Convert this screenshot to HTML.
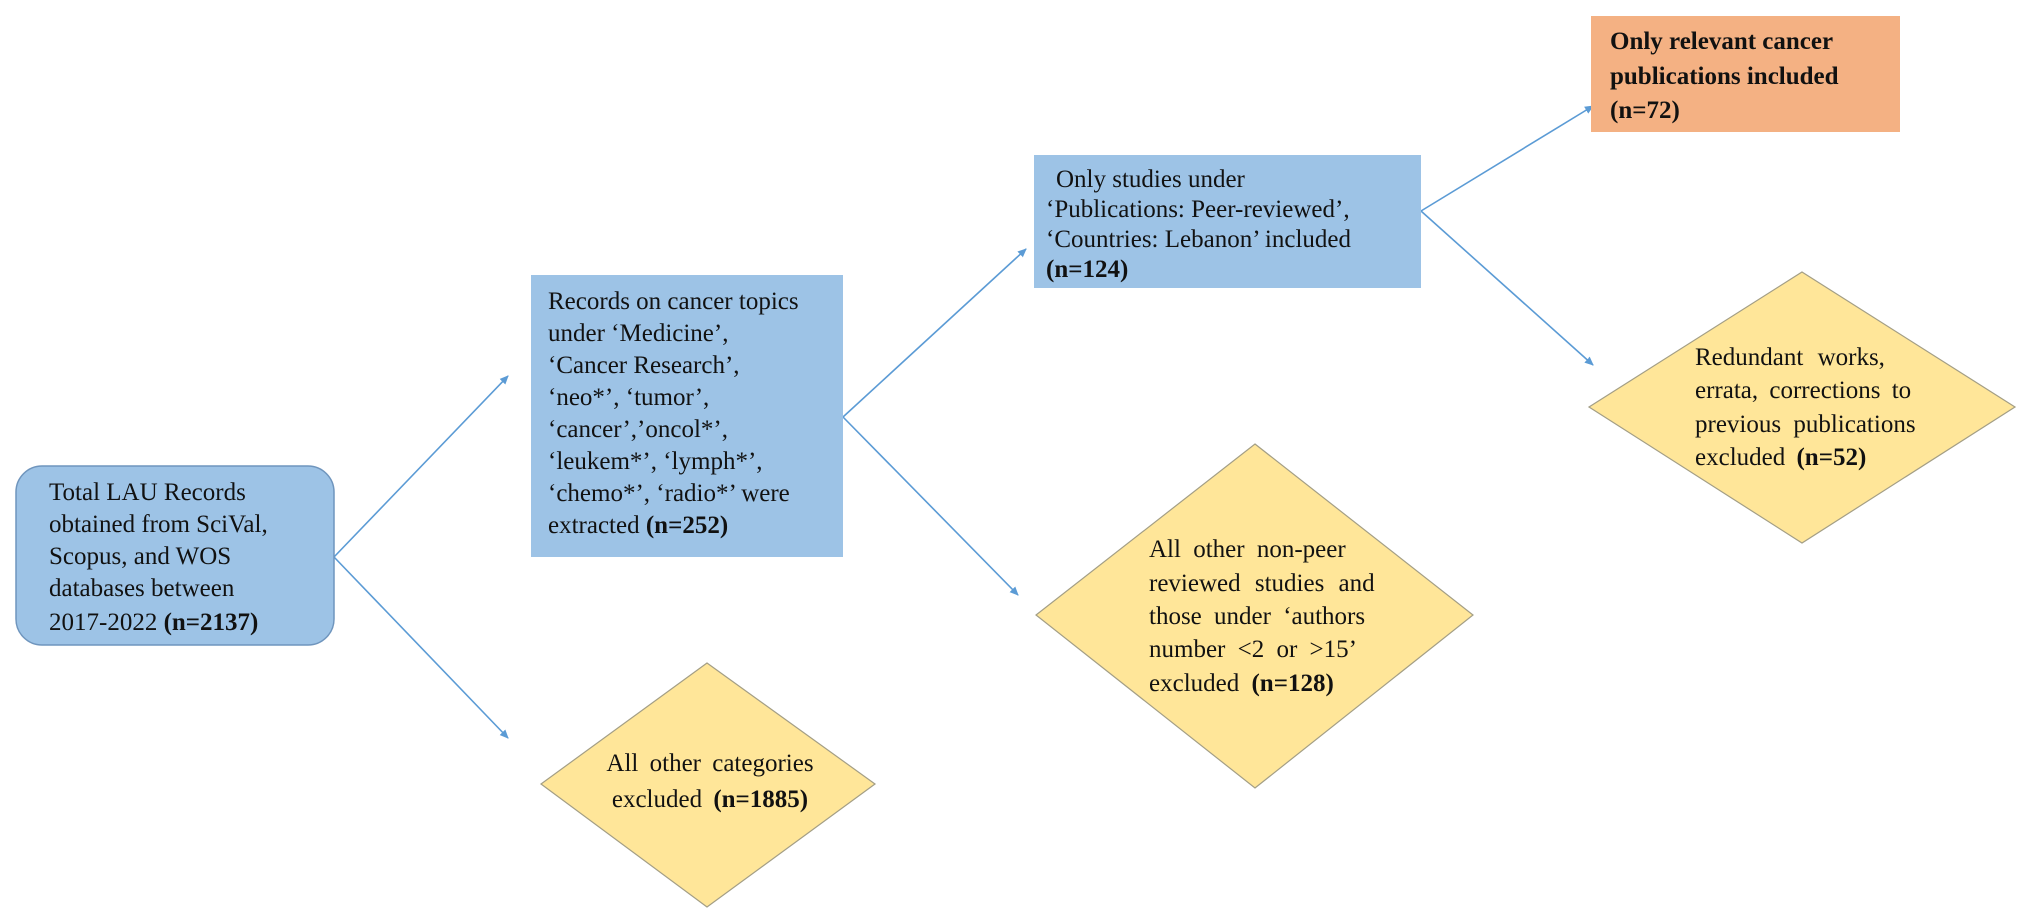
<!DOCTYPE html>
<html><head><meta charset="utf-8"><style>
html,body{margin:0;padding:0;background:#fff;}
svg{display:block;}
text{font-family:"Liberation Serif",serif;font-size:25px;fill:#111;}
.b{font-weight:bold;}
</style></head><body>
<svg width="2031" height="921" viewBox="0 0 2031 921" xmlns="http://www.w3.org/2000/svg">
<defs>
<marker id="ah" markerWidth="10" markerHeight="10" refX="8" refY="5" orient="auto" markerUnits="userSpaceOnUse">
<path d="M0,1 L9,5 L0,9 z" fill="#5b9bd5"/>
</marker>
</defs>
<g stroke="#5b9bd5" stroke-width="1.6" fill="none" marker-end="url(#ah)">
<line x1="334" y1="557" x2="508" y2="376"/>
<line x1="334" y1="557" x2="508" y2="738"/>
<line x1="843" y1="417" x2="1026" y2="249"/>
<line x1="843" y1="417" x2="1018" y2="595"/>
<line x1="1421" y1="211" x2="1593" y2="106"/>
<line x1="1421" y1="211" x2="1593" y2="365"/>
</g>
<rect x="16" y="466" width="318" height="179" rx="26" fill="#9dc3e6" stroke="#6f95bd" stroke-width="1.5"/>
<rect x="531" y="275" width="312" height="282" fill="#9dc3e6"/>
<rect x="1034" y="155" width="387" height="133" fill="#9dc3e6"/>
<rect x="1591" y="16" width="309" height="116" fill="#f4b183"/>
<polygon points="707,663 875,784 707,907 541,784" fill="#ffe699" stroke="#a39e85" stroke-width="1.2"/>
<polygon points="1255,444 1473,615 1255,788 1036,615" fill="#ffe699" stroke="#a39e85" stroke-width="1.2"/>
<polygon points="1802,272 2015,407 1802,543 1589,407" fill="#ffe699" stroke="#a39e85" stroke-width="1.2"/>

<text x="49" y="500">Total LAU Records</text>
<text x="49" y="532">obtained from SciVal,</text>
<text x="49" y="564">Scopus, and WOS</text>
<text x="49" y="596">databases between</text>
<text x="49" y="630">2017-2022 <tspan class="b">(n=2137)</tspan></text>

<text x="548" y="309">Records on cancer topics</text>
<text x="548" y="341">under ‘Medicine’,</text>
<text x="548" y="373">‘Cancer Research’,</text>
<text x="548" y="405">‘neo*’, ‘tumor’,</text>
<text x="548" y="437">‘cancer’,’oncol*’,</text>
<text x="548" y="469">‘leukem*’, ‘lymph*’,</text>
<text x="548" y="501">‘chemo*’, ‘radio*’ were</text>
<text x="548" y="533">extracted <tspan class="b">(n=252)</tspan></text>

<text x="710" y="771" text-anchor="middle" word-spacing="5">All other categories</text>
<text x="710" y="807" text-anchor="middle" word-spacing="5">excluded <tspan class="b">(n=1885)</tspan></text>

<text x="1056" y="187">Only studies under</text>
<text x="1046" y="217">‘Publications: Peer-reviewed’,</text>
<text x="1046" y="247">‘Countries: Lebanon’ included</text>
<text x="1046" y="277" class="b">(n=124)</text>

<text x="1149" y="557" word-spacing="6">All other non-peer</text>
<text x="1149" y="591" word-spacing="8">reviewed studies and</text>
<text x="1149" y="624" word-spacing="6">those under ‘authors</text>
<text x="1149" y="657" word-spacing="6">number &lt;2 or &gt;15’</text>
<text x="1149" y="691" word-spacing="6">excluded <tspan class="b">(n=128)</tspan></text>

<text x="1610" y="49" class="b">Only relevant cancer</text>
<text x="1610" y="84" class="b">publications included</text>
<text x="1610" y="118" class="b">(n=72)</text>

<text x="1695" y="365" word-spacing="8">Redundant works,</text>
<text x="1695" y="398" word-spacing="5">errata, corrections to</text>
<text x="1695" y="432" word-spacing="6">previous publications</text>
<text x="1695" y="465" word-spacing="5">excluded <tspan class="b">(n=52)</tspan></text>
</svg>
</body></html>
